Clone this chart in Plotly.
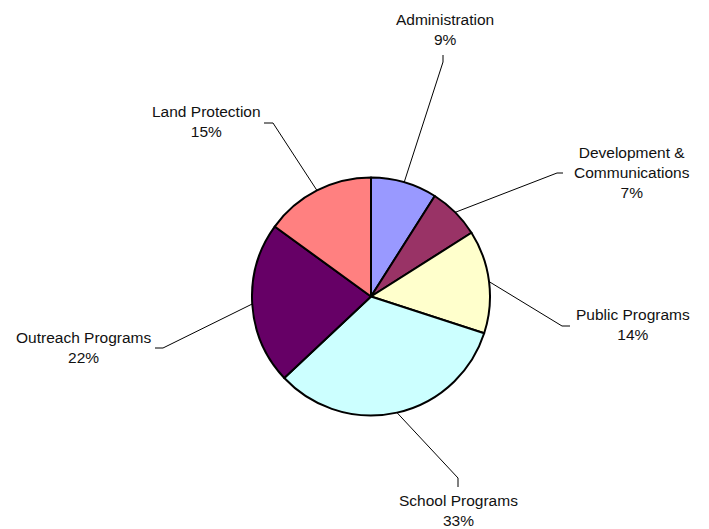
import math
import plotly.graph_objects as go

# ---- data ----
categories = ["Administration", "Development &<br>Communications", "Public Programs",
              "School Programs", "Outreach Programs", "Land Protection"]
values = [9, 7, 14, 33, 22, 15]
colors = ["#9999FF", "#993366", "#FFFFCC", "#CCFFFF", "#660066", "#FF8080"]

# ---- layout constants (pixels in the 709x529 window) ----
OFF = 8                      # default page body margin
W, H = 709 - OFF, 529 - OFF  # figure size so it fills the window
CX, CY, R = 371, 296.5, 119
FONT = dict(family="Liberation Sans, Arial, sans-serif", size=15.5, color="#111111")

# label layout: text centre (x, y), elbow point, tick end point
label_layout = [
    dict(tx=445, ty=29, elbow=(443, 62), end=(443, 55)),
    dict(tx=632, ty=172, elbow=(557, 173), end=(563, 173)),
    dict(tx=633, ty=324.5, elbow=(562, 326), end=(570, 326)),
    dict(tx=458, ty=510, elbow=(458, 478), end=(458, 487)),
    dict(tx=83, ty=347, elbow=(163, 348), end=(155, 348)),
    dict(tx=206, ty=122, elbow=(273, 123), end=(264, 123)),
]


def px(x):
    return (x - OFF) / W


def py(y):
    return 1 - (y - OFF) / H


fig = go.Figure(go.Pie(
    labels=categories,
    values=values,
    sort=False,
    direction="clockwise",
    rotation=0,
    textinfo="none",
    hoverinfo="label+percent",
    marker=dict(colors=colors, line=dict(color="#000000", width=2)),
    domain=dict(x=[px(CX - R), px(CX + R)], y=[py(CY + R), py(CY - R)]),
    showlegend=False,
))

total = sum(values)
shapes = []
annotations = []
cum = 0
for cat, v, lay in zip(categories, values, label_layout):
    mid = (cum + v / 2) / total * 2 * math.pi
    cum += v
    sx = CX + R * math.sin(mid)
    sy = CY - R * math.cos(mid)
    pts = [(sx, sy), lay["elbow"], lay["end"]]
    path = "M " + " L ".join(f"{px(x)},{py(y)}" for x, y in pts)
    shapes.append(dict(type="path", xref="paper", yref="paper", path=path,
                       line=dict(color="#000000", width=1)))
    pct = round(v / total * 100)
    annotations.append(dict(
        x=px(lay["tx"]), y=py(lay["ty"]), xref="paper", yref="paper",
        text=f"{cat}<br>{pct}%", showarrow=False, align="center",
        xanchor="center", yanchor="middle", font=FONT,
    ))

fig.update_layout(
    width=W, height=H,
    margin=dict(l=0, r=0, t=0, b=0),
    paper_bgcolor="white", plot_bgcolor="white",
    shapes=shapes, annotations=annotations,
)

fig.write_html("out.html")
